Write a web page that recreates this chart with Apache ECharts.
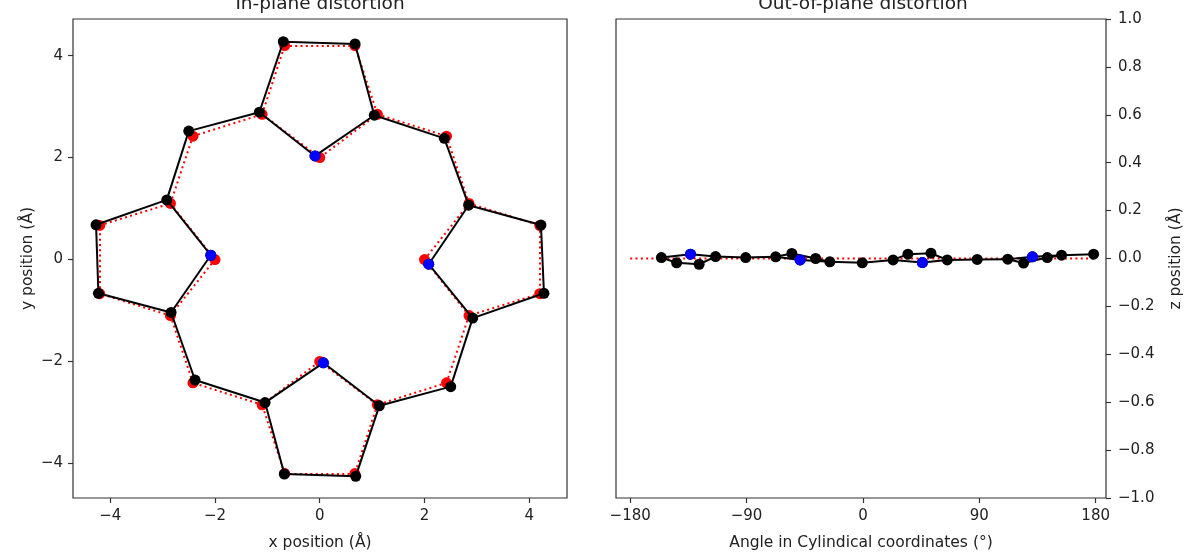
<!DOCTYPE html>
<html>
<head>
<meta charset="utf-8">
<title>Distortion</title>
<script src="https://cdn.jsdelivr.net/npm/echarts@6/dist/echarts.min.js"></script>
<style>
html, body { margin: 0; padding: 0; background: #fff; }
#main { width: 1185px; height: 556px; }
</style>
</head>
<body>
<div id="main"></div>
<script>
// atom order: 4 pyrrole rings (N, Ca, Cb, Cb, Ca), each one followed by its meso carbon
var distX = [-0.09, -1.153, -0.695, 0.674, 1.042, 2.378,
             2.08, 2.843, 4.223, 4.28, 2.92, 2.5,
             0.069, 1.137, 0.687, -0.676, -1.044, -2.38,
             -2.08, -2.838, -4.225, -4.27, -2.92, -2.5];
var distY = [2.033, 2.891, 4.275, 4.23, 2.832, 2.378,
             -0.092, 1.066, 0.676, -0.663, -1.15, -2.495,
             -2.027, -2.871, -4.255, -4.21, -2.807, -2.365,
             0.084, -1.039, -0.663, 0.682, 1.17, 2.52];
var refX = [0, -1.1, -0.67, 0.67, 1.1, 2.42,
            2.0, 2.85, 4.2, 4.2, 2.85, 2.42,
            0, 1.1, 0.67, -0.67, -1.1, -2.42,
            -2.0, -2.85, -4.2, -4.2, -2.85, -2.42];
var refY = [2.0, 2.85, 4.2, 4.2, 2.85, 2.42,
            0, 1.1, 0.67, -0.67, -1.1, -2.42,
            -2.0, -2.85, -4.2, -4.2, -2.85, -2.42,
            0, -1.1, -0.67, 0.67, 1.1, 2.42];
var nIndex = [0, 6, 12, 18];
var bonds = [[0, 1], [1, 2], [2, 3], [3, 4], [4, 0], [4, 5], [5, 7],
             [6, 7], [7, 8], [8, 9], [9, 10], [10, 6], [10, 11], [11, 13],
             [12, 13], [13, 14], [14, 15], [15, 16], [16, 12], [16, 17], [17, 19],
             [18, 19], [19, 20], [20, 21], [21, 22], [22, 18], [22, 23], [23, 1]];

// out-of-plane: cylindrical angle (deg) and z (A), same atom order
var angle = [46, 65.2, 52.6, 34.8, 23.3, -0.5,
             -48.6, -25.6, -36.6, -55, -67.5, -90.7,
             -133.4, -114, -126.7, -144.1, -155.9, 178.4,
             131.1, 153.6, 142.6, 124.2, 112, 88.4];
var zPos = [-0.017, -0.006, 0.022, 0.018, -0.006, -0.018,
            -0.006, -0.014, 0, 0.021, 0.007, 0.004,
            0.018, 0.008, -0.024, -0.018, 0.004, 0.018,
            0.007, 0.014, 0.004, -0.019, -0.003, -0.004];
var refAngle = [-180, -156.1, -144.1, -135, -125.9, -113.9, -90, -66.1, -54.1, -45, -35.9, -23.9, 0,
                23.9, 35.9, 45, 54.1, 66.1, 90, 113.9, 125.9, 135, 144.1, 156.1, 180];

var posTicks = [-4, -2, 0, 2, 4];
var angleTicks = [-180, -90, 0, 90, 180];

var font = 'DejaVu Sans';
var textColor = '#222';

function minus(s) { return String(s).replace('-', '\u2212'); }

function pts(xs, ys, idx) {
    var out = [];
    for (var i = 0; i < idx.length; i++) out.push([xs[idx[i]], ys[idx[i]]]);
    return out;
}
function allIdx(n) { var a = []; for (var i = 0; i < n; i++) a.push(i); return a; }
function bondCoords(xs, ys, skipWrap) {
    var out = [];
    bonds.forEach(function (b) {
        if (skipWrap && Math.abs(xs[b[0]] - xs[b[1]]) > 180) return;
        out.push({ coords: [[xs[b[0]], ys[b[0]]], [xs[b[1]], ys[b[1]]]] });
    });
    return out;
}
var atomIdx = allIdx(24);

var tickStyle = { show: true, inside: false, length: 5, lineStyle: { color: '#333', width: 1.2 } };
var labelStyle = { color: textColor, fontFamily: font, fontSize: 15 };
var nameStyle = { color: textColor, fontFamily: font, fontSize: 15.5 };
var noLine = { show: false, onZero: false };

var myChart = echarts.init(document.getElementById('main'));
var option = {
    animation: false,
    backgroundColor: '#fff',
    grid: [
        { left: 73, top: 19, width: 494, height: 482, show: true, borderColor: '#333', borderWidth: 1.2 },
        { left: 616, top: 19, width: 493, height: 483, show: true, borderColor: '#333', borderWidth: 1.2 }
    ],
    graphic: [
        { type: 'text', x: 320, y: 4, style: { text: 'In-plane distortion', font: '18.5px "DejaVu Sans"', fill: textColor, textAlign: 'center', textVerticalAlign: 'middle' } },
        { type: 'text', x: 863, y: 4, style: { text: 'Out-of-plane distortion', font: '18.5px "DejaVu Sans"', fill: textColor, textAlign: 'center', textVerticalAlign: 'middle' } }
    ],
    xAxis: [
        {
            gridIndex: 0, type: 'value', min: -4.71, max: 4.72,
            name: 'x position (\u00c5)', nameLocation: 'middle', nameGap: 37, nameTextStyle: nameStyle,
            axisLine: noLine, splitLine: { show: false },
            axisTick: Object.assign({ customValues: posTicks }, tickStyle),
            axisLabel: Object.assign({ customValues: posTicks, margin: 11, formatter: minus }, labelStyle)
        },
        {
            gridIndex: 1, type: 'value', min: -191, max: 188,
            name: 'Angle in Cylindical coordinates (\u00b0)', nameLocation: 'middle', nameGap: 37, nameTextStyle: nameStyle,
            axisLine: noLine, splitLine: { show: false },
            axisTick: Object.assign({ customValues: angleTicks }, tickStyle),
            axisLabel: Object.assign({ customValues: angleTicks, margin: 11, formatter: minus }, labelStyle)
        }
    ],
    yAxis: [
        {
            gridIndex: 0, type: 'value', min: -4.68, max: 4.72,
            name: 'y position (\u00c5)', nameLocation: 'middle', nameGap: 37, nameRotate: 90, nameTextStyle: nameStyle,
            axisLine: noLine, splitLine: { show: false },
            axisTick: Object.assign({ customValues: posTicks }, tickStyle),
            axisLabel: Object.assign({ customValues: posTicks, margin: 10, formatter: minus }, labelStyle)
        },
        {
            gridIndex: 1, type: 'value', position: 'right', min: -1, max: 1, interval: 0.2,
            name: 'z position (\u00c5)', nameLocation: 'middle', nameGap: 62, nameRotate: 90, nameTextStyle: nameStyle,
            axisLine: noLine, splitLine: { show: false },
            axisTick: tickStyle,
            axisLabel: Object.assign({ margin: 12, formatter: function (v) { return minus(v.toFixed(1)); } }, labelStyle)
        }
    ],
    series: [
        // in-plane: reference (red, dotted) then distorted (black, solid)
        {
            type: 'lines', coordinateSystem: 'cartesian2d', xAxisIndex: 0, yAxisIndex: 0, z: 1,
            lineStyle: { color: '#ff0000', width: 2, type: [2, 3.3], opacity: 1 },
            data: bondCoords(refX, refY, false)
        },
        {
            type: 'scatter', xAxisIndex: 0, yAxisIndex: 0, z: 2, symbolSize: 11,
            itemStyle: { color: '#ff0000', opacity: 1 },
            data: pts(refX, refY, atomIdx)
        },
        {
            type: 'lines', coordinateSystem: 'cartesian2d', xAxisIndex: 0, yAxisIndex: 0, z: 3,
            lineStyle: { color: '#000', width: 2, type: 'solid', opacity: 1 },
            data: bondCoords(distX, distY, false)
        },
        {
            type: 'scatter', xAxisIndex: 0, yAxisIndex: 0, z: 4, symbolSize: 11,
            itemStyle: { color: '#000', opacity: 1 },
            data: pts(distX, distY, atomIdx)
        },
        {
            type: 'scatter', xAxisIndex: 0, yAxisIndex: 0, z: 5, symbolSize: 11,
            itemStyle: { color: '#0000ff', opacity: 1 },
            data: pts(distX, distY, nIndex)
        },
        // out-of-plane
        {
            type: 'line', xAxisIndex: 1, yAxisIndex: 1, z: 1, showSymbol: false,
            lineStyle: { color: '#ff0000', width: 2, type: [2, 3.3] },
            data: refAngle.map(function (a) { return [a, 0]; })
        },
        {
            type: 'lines', coordinateSystem: 'cartesian2d', xAxisIndex: 1, yAxisIndex: 1, z: 3,
            lineStyle: { color: '#000', width: 2, type: 'solid', opacity: 1 },
            data: bondCoords(angle, zPos, true)
        },
        {
            type: 'scatter', xAxisIndex: 1, yAxisIndex: 1, z: 4, symbolSize: 11,
            itemStyle: { color: '#000', opacity: 1 },
            data: pts(angle, zPos, atomIdx)
        },
        {
            type: 'scatter', xAxisIndex: 1, yAxisIndex: 1, z: 5, symbolSize: 11,
            itemStyle: { color: '#0000ff', opacity: 1 },
            data: pts(angle, zPos, nIndex)
        }
    ]
};
if (option && typeof option === "object") {
    myChart.setOption(option, true);
}
</script>
</body>
</html>
